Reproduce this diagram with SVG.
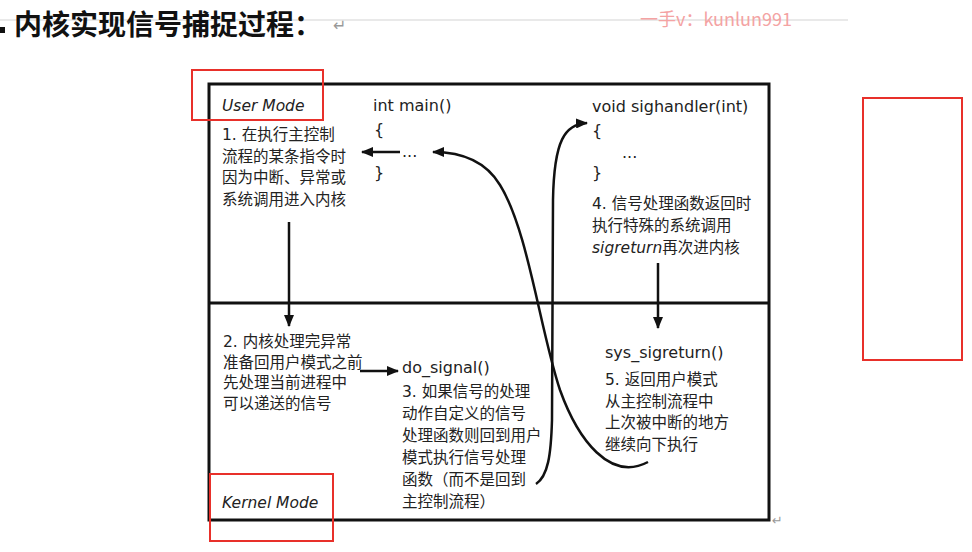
<svg xmlns="http://www.w3.org/2000/svg" width="972" height="552" viewBox="0 0 972 552">
<defs>
<marker id="ah" viewBox="0 0 12 10" refX="11" refY="5" markerWidth="12" markerHeight="10" markerUnits="userSpaceOnUse" orient="auto">
<path d="M0,0 L12,5 L0,10 Z" fill="#111"/>
</marker>
<style>
.t{font-family:"DejaVu Sans","Noto Sans CJK SC",sans-serif;font-size:15.5px;fill:#222}
.c{font-family:"DejaVu Sans","Noto Sans CJK SC",sans-serif;font-size:16px;fill:#222}
.i{font-style:italic}
.ln{fill:none;stroke:#111;stroke-width:2.5}
.red{fill:none;stroke:#e8302a;stroke-width:2}
</style>
</defs>
<rect width="972" height="552" fill="#fff"/>
<line x1="0" y1="20" x2="848" y2="20" stroke="#d4d4d4" stroke-width="1.2"/>
<text x="640" y="26" font-family="'Noto Sans CJK SC',sans-serif" font-size="18" fill="#f4a3a3">一手v：kunlun991</text>
<rect x="0" y="27" width="5" height="6" fill="#111"/>
<text x="14" y="35" font-family="'Noto Sans CJK SC',sans-serif" font-size="28" font-weight="bold" fill="#111">内核实现信号捕捉过程：</text>
<text x="333" y="31" font-family="'DejaVu Sans',sans-serif" font-size="16" fill="#999">↵</text>

<g id="frame">
<rect x="209" y="84" width="560" height="436" fill="none" stroke="#111" stroke-width="3"/>
<line x1="209" y1="303" x2="769" y2="303" stroke="#111" stroke-width="3"/>
<text x="772" y="525" font-family="'DejaVu Sans',sans-serif" font-size="13" fill="#999">↵</text>
</g>

<g id="user-mode"><text class="t i" x="222" y="111">User Mode</text></g>
<g id="kernel-mode"><text class="t i" x="222" y="508">Kernel Mode</text></g>

<g id="step1">
<text class="t" x="222" y="140">1. 在执行主控制</text>
<text class="t" x="222" y="162">流程的某条指令时</text>
<text class="t" x="222" y="183">因为中断、异常或</text>
<text class="t" x="222" y="205">系统调用进入内核</text>
</g>

<g id="main">
<text class="c" x="373" y="111">int main()</text>
<text class="c" x="374" y="135">{</text>
<text class="c" x="402" y="157">...</text>
<text class="c" x="374" y="178">}</text>
</g>

<g id="sighandler">
<text class="c" x="592" y="112">void sighandler(int)</text>
<text class="c" x="592" y="136">{</text>
<text class="c" x="622" y="158">...</text>
<text class="c" x="592" y="178">}</text>
</g>

<g id="step4">
<text class="t" x="592" y="209">4. 信号处理函数返回时</text>
<text class="t" x="592" y="231">执行特殊的系统调用</text>
<text class="t" x="592" y="253"><tspan class="i">sigreturn</tspan>再次进内核</text>
</g>

<g id="step2">
<text class="t" x="223" y="347">2. 内核处理完异常</text>
<text class="t" x="223" y="368">准备回用户模式之前</text>
<text class="t" x="223" y="388">先处理当前进程中</text>
<text class="t" x="223" y="409">可以递送的信号</text>
</g>

<g id="do-signal">
<text class="c" x="402" y="373">do_signal()</text>
<text class="t" x="402" y="397">3. 如果信号的处理</text>
<text class="t" x="402" y="419">动作自定义的信号</text>
<text class="t" x="402" y="441">处理函数则回到用户</text>
<text class="t" x="402" y="463">模式执行信号处理</text>
<text class="t" x="402" y="485">函数（而不是回到</text>
<text class="t" x="402" y="507">主控制流程）</text>
</g>

<g id="sys-sigreturn">
<text class="c" x="605" y="358">sys_sigreturn()</text>
<text class="t" x="605" y="385">5. 返回用户模式</text>
<text class="t" x="605" y="407">从主控制流程中</text>
<text class="t" x="605" y="428">上次被中断的地方</text>
<text class="t" x="605" y="450">继续向下执行</text>
</g>

<g id="connectors">
<line class="ln" x1="400" y1="152" x2="362" y2="152" marker-end="url(#ah)"/>
<line class="ln" x1="289" y1="222" x2="289" y2="326" marker-end="url(#ah)"/>
<line class="ln" x1="360" y1="371" x2="398" y2="371" marker-end="url(#ah)"/>
<line class="ln" x1="658" y1="263" x2="658" y2="328" marker-end="url(#ah)"/>
<path class="ln" d="M 536 484 C 548 476, 551 455, 552 420 L 553 200 C 554 140, 565 124, 587 123" marker-end="url(#ah)"/>
<path class="ln" d="M 648 462 C 610 482, 578 440, 560 390 C 540 330, 528 230, 500 185 C 485 160, 460 152, 433 152" marker-end="url(#ah)"/>
</g>

<g id="highlights">
<rect class="red" x="192" y="70" width="131" height="50"/>
<rect class="red" x="210" y="474" width="123" height="67"/>
<rect class="red" x="863" y="98" width="99" height="262"/>
</g>
</svg>
